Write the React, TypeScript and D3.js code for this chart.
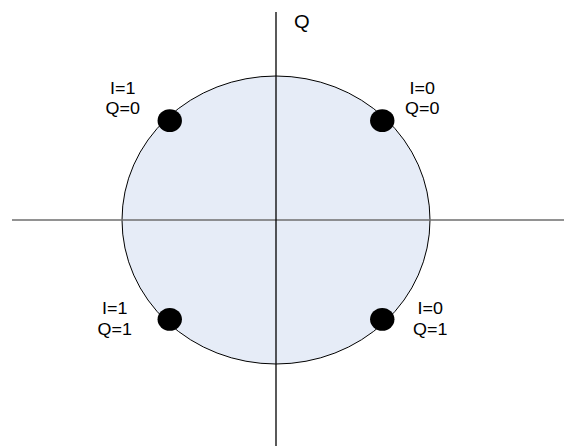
import * as d3 from "d3";

// constellation points in I/Q units (unit circle = outline)
const SYMBOL_I = [-0.69, 0.69, -0.69, 0.69];
const SYMBOL_Q = [0.69, 0.69, -0.69, -0.69];
const BIT_I = ["1", "0", "1", "0"];
const BIT_Q = ["0", "0", "1", "1"];
const AXIS_LABEL = "Q";

const W = 564;
const H = 446;
const CX = 276;
const CY = 220;
const RX = 154;
const RY = 144;
const FONT = "'Liberation Sans', Arial, Helvetica, sans-serif";
const STRETCH = 1.12;

export default function App() {
  const x = d3.scaleLinear().domain([-1, 1]).range([CX - RX, CX + RX]);
  const y = d3.scaleLinear().domain([-1, 1]).range([CY + RY, CY - RY]);

  const points = SYMBOL_I.map((iv, k) => ({
    px: x(iv),
    py: y(SYMBOL_Q[k]),
    top: SYMBOL_Q[k] > 0,
    left: iv < 0,
    lines: [`I=${BIT_I[k]}`, `Q=${BIT_Q[k]}`],
  }));

  // label anchor relative to each dot
  const labelPos = (p: (typeof points)[number]) => {
    if (p.top) return { lx: p.px + (p.left ? -47 : 40), ly: p.py - 27 };
    return { lx: p.px + (p.left ? -55 : 48), ly: p.py - 5 };
  };

  return (
    <svg
      width={W}
      height={H}
      style={{ position: "absolute", left: 0, top: 0, background: "#fff" }}
    >
      {/* outline */}
      <ellipse
        cx={x(0)}
        cy={y(0)}
        rx={x(1) - x(0)}
        ry={y(0) - y(1)}
        fill="#e6ecf7"
        stroke="#000"
        strokeWidth={1}
      />

      {/* axes */}
      <line x1={12} x2={W} y1={y(0)} y2={y(0)} stroke="#6e6e6e" strokeWidth={1.6} />
      <line x1={x(0)} x2={x(0)} y1={12} y2={H} stroke="#000" strokeWidth={1.3} />

      <text
        transform={`translate(${x(0) + 18},28) scale(${STRETCH},1)`}
        fontFamily={FONT}
        fontSize={18}
        fill="#000"
      >
        {AXIS_LABEL}
      </text>

      {points.map((p, k) => {
        const { lx, ly } = labelPos(p);
        return (
          <g key={k}>
            <ellipse cx={p.px} cy={p.py} rx={12.2} ry={11.4} fill="#000" />
            {p.lines.map((t, j) => (
              <text
                key={j}
                transform={`translate(${lx},${ly + j * 20.5}) scale(${STRETCH},1)`}
                textAnchor="middle"
                fontFamily={FONT}
                fontSize={16}
                fill="#000"
              >
                {t}
              </text>
            ))}
          </g>
        );
      })}
    </svg>
  );
}
